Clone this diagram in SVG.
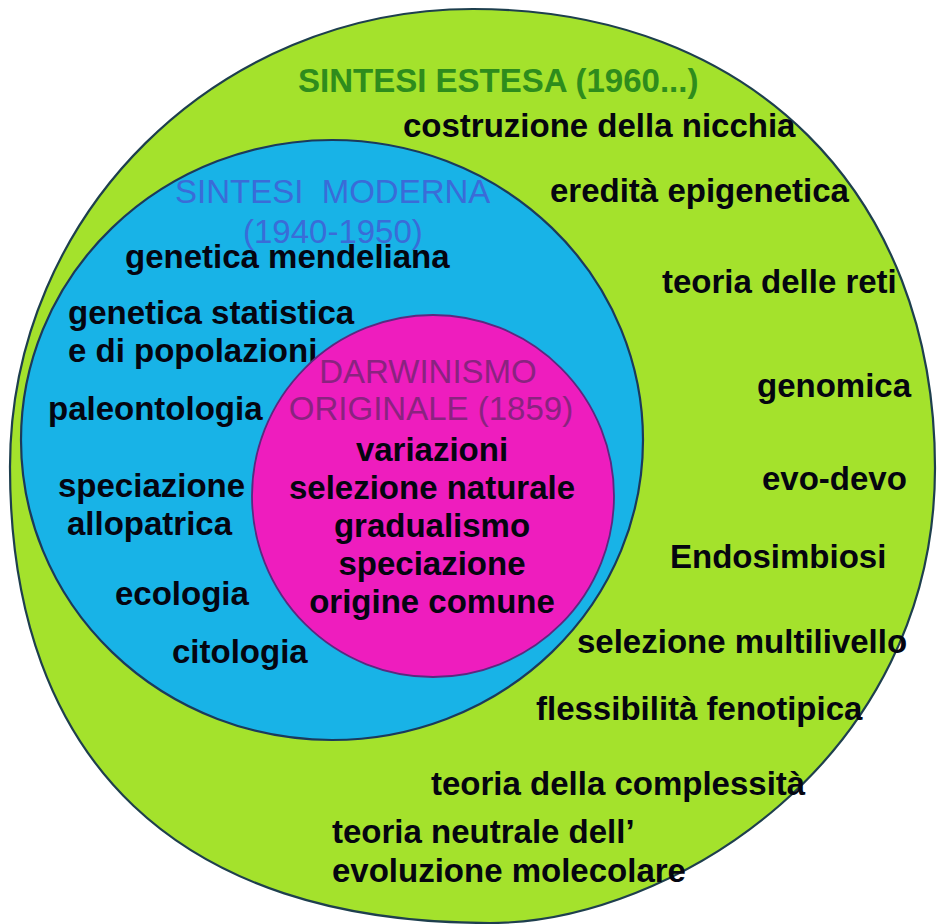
<svg xmlns="http://www.w3.org/2000/svg" width="937" height="924" viewBox="0 0 937 924">
<style>
  .t { font-family: "Liberation Sans", Arial, sans-serif; font-size: 33px; font-weight: bold; fill: #050510; }
  .h { font-family: "Liberation Sans", Arial, sans-serif; font-size: 33px; }
  .c { text-anchor: middle; }
</style>
<rect width="937" height="924" fill="#ffffff"/>
<g id="connectors"></g>
<g id="sintesi-estesa">
  <path d="M 473,9 C 750,9 935,193 935,468 C 935,760 670,923 490,923 C 180,923 10,763 10,467 C 10,214 217,9 473,9 Z" fill="#A4E22C" stroke="#1E3F4E" stroke-width="2.2"/>
  <text class="h" x="298" y="92" font-weight="bold" fill="#2E8C1C">SINTESI ESTESA (1960...)</text>
  <text class="t" x="403" y="137">costruzione della nicchia</text>
  <text class="t" x="550" y="202">eredità epigenetica</text>
  <text class="t" x="662" y="293">teoria delle reti</text>
  <text class="t" x="757" y="397">genomica</text>
  <text class="t" x="762" y="490">evo-devo</text>
  <text class="t" x="670" y="568">Endosimbiosi</text>
  <text class="t" x="577" y="653">selezione multilivello</text>
  <text class="t" x="536" y="720">flessibilità fenotipica</text>
  <text class="t" x="431" y="795">teoria della complessità</text>
  <text class="t" x="332" y="843">teoria neutrale dell’</text>
  <text class="t" x="332" y="882">evoluzione molecolare</text>
</g>
<g id="sintesi-moderna">
  <ellipse cx="332" cy="440" rx="311" ry="300" fill="#18B3E7" stroke="#1B3A5C" stroke-width="2.2"/>
  <text class="h" x="175" y="203" fill="#3A6CD8" xml:space="preserve">SINTESI  MODERNA</text>
  <text class="h" x="243" y="243" fill="#3A6CD8">(1940-1950)</text>
  <text class="t" x="125" y="268">genetica mendeliana</text>
  <text class="t" x="68" y="324">genetica statistica</text>
  <text class="t" x="68" y="362">e di popolazioni</text>
  <text class="t" x="48" y="420">paleontologia</text>
  <text class="t" x="58" y="497">speciazione</text>
  <text class="t" x="67" y="535">allopatrica</text>
  <text class="t" x="115" y="605">ecologia</text>
  <text class="t" x="172" y="663">citologia</text>
</g>
<g id="darwinismo-originale">
  <circle cx="433" cy="496" r="181" fill="#EE1DBE" stroke="#5A2A80" stroke-width="1.8"/>
  <text class="h c" x="428" y="383" fill="#8A2380">DARWINISMO</text>
  <text class="h c" x="431" y="420" fill="#8A2380">ORIGINALE (1859)</text>
  <text class="t c" x="432" y="461">variazioni</text>
  <text class="t c" x="432" y="499">selezione naturale</text>
  <text class="t c" x="432" y="537">gradualismo</text>
  <text class="t c" x="432" y="575">speciazione</text>
  <text class="t c" x="432" y="613">origine comune</text>
</g>
</svg>
